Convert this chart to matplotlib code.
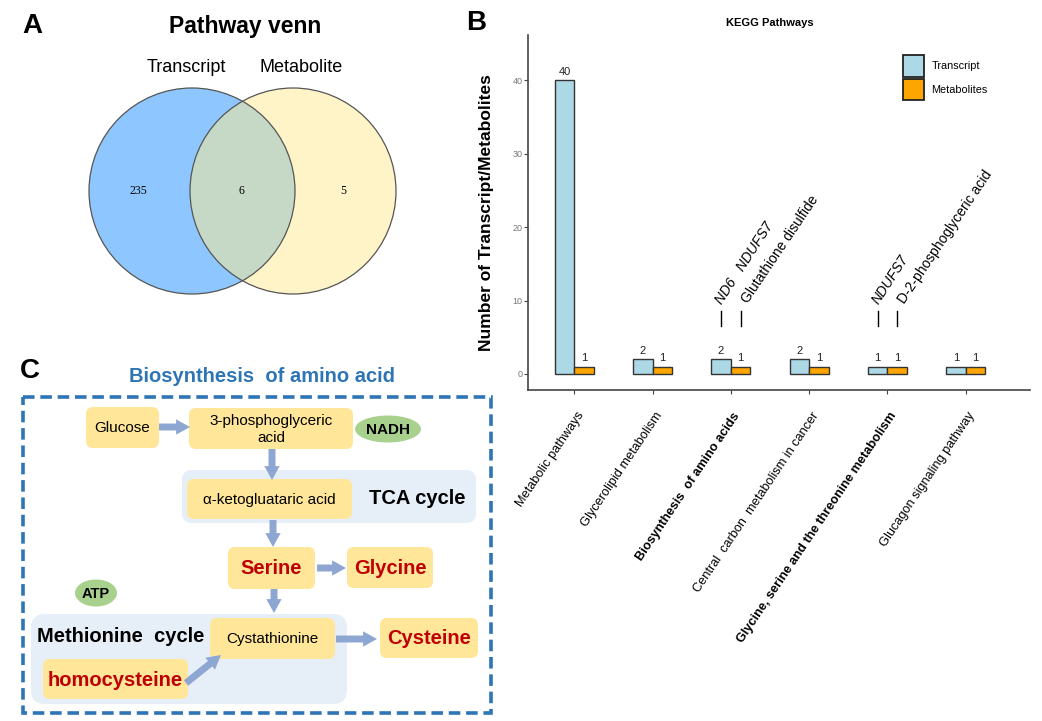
import numpy as np
import matplotlib
matplotlib.use("Agg")
import matplotlib.pyplot as plt
from matplotlib.patches import Circle, Ellipse, FancyBboxPatch, FancyArrowPatch, Rectangle
import matplotlib.transforms as mtransforms

plt.rcParams['font.family'] = ['Liberation Sans', 'DejaVu Sans']

# ---- data ----
venn_sets = ["Transcript", "Metabolite"]
venn_counts = [235, 6, 5]   # only transcript, both, only metabolite

pathways = ["Metabolic pathways",
            "Glycerolipid metabolism",
            "Biosynthesis  of amino acids",
            "Central  carbon  metabolism in cancer",
            "Glycine, serine and the threonine metabolism",
            "Glucagon signaling pathway"]
transcript = [40, 2, 2, 2, 1, 1]
metabolites = [1, 1, 1, 1, 1, 1]
bold_paths = [2, 4]
gene_notes = [(2, "ND6   NDUFS7"), (4, "NDUFS7")]
metab_notes = [(2, "Glutathione disulfide"), (4, "D-2-phosphoglyceric acid")]

W, H = 1042, 721
fig = plt.figure(figsize=(W / 100, H / 100), dpi=100)

# overlay in pixel coords for panels A and C
ov = fig.add_axes([0, 0, 1, 1])
ov.set_xlim(0, W)
ov.set_ylim(H, 0)
ov.axis('off')

# panel letters
for letter, (px, py) in zip("ABC", [(32, 26), (476, 23), (30, 371)]):
    ov.text(px, py, letter, fontsize=20, fontweight='bold', ha='center', va='center')

# ---- A: venn ----
ov.text(245, 27, "Pathway venn", fontsize=16.5, fontweight='bold', ha='center', va='center')
ov.text(186, 68, venn_sets[0], fontsize=13, ha='center', va='center')
ov.text(301, 68, venn_sets[1], fontsize=13, ha='center', va='center')
ov.add_patch(Circle((192, 191), 103, facecolor='#1E90FF', alpha=0.5, edgecolor='none'))
ov.add_patch(Circle((293, 191), 103, facecolor='#FFEB91', alpha=0.5, edgecolor='none'))
ov.add_patch(Circle((192, 191), 103, facecolor='none', edgecolor='#555555', lw=0.9))
ov.add_patch(Circle((293, 191), 103, facecolor='none', edgecolor='#555555', lw=0.9))
for cx, n in zip([138, 241, 343], venn_counts):
    ov.text(cx, 191, str(n), fontsize=8.5, family='Liberation Serif', ha='center', va='center')

# ---- C: pathway diagram ----
ov.text(262, 377, "Biosynthesis  of amino acid", fontsize=14.5, fontweight='bold',
        color='#2E75B6', ha='center', va='center')
ov.add_patch(Rectangle((23, 397), 468, 316, facecolor='none', edgecolor='#2E75B6',
                       lw=2.6, linestyle=(0, (3.2, 1.6))))

blue_bg = '#E6EEF8'
box_c = '#FFE699'
red = '#C00000'


def rbox(x0, y0, x1, y1, color, r=7):
    ov.add_patch(FancyBboxPatch((x0, y0), x1 - x0, y1 - y0,
                                boxstyle="round,pad=0,rounding_size=%d" % r,
                                facecolor=color, edgecolor='none'))


rbox(182, 470, 476, 523, blue_bg, 10)
rbox(31, 614, 347, 704, blue_bg, 14)

boxes = [
    (86, 407, 159, 448, "Glucose", 11, 'normal', 'black'),
    (189, 408, 353, 449, "3-phosphoglyceric\nacid", 11, 'normal', 'black'),
    (187, 479, 352, 519, "α-ketogluataric acid", 11, 'normal', 'black'),
    (228, 547, 315, 589, "Serine", 14.5, 'bold', red),
    (347, 547, 433, 588, "Glycine", 14.5, 'bold', red),
    (210, 618, 335, 659, "Cystathionine", 11, 'normal', 'black'),
    (43, 659, 188, 699, "homocysteine", 14.5, 'bold', red),
    (380, 618, 478, 658, "Cysteine", 14.5, 'bold', red),
]
for x0, y0, x1, y1, txt, fs, fw, col in boxes:
    rbox(x0, y0, x1, y1, box_c)
    ov.text((x0 + x1) / 2, (y0 + y1) / 2 + 1, txt, fontsize=fs, fontweight=fw, color=col,
            ha='center', va='center', linespacing=1.25)

ov.text(417, 499, "TCA cycle", fontsize=14.5, fontweight='bold', ha='center', va='center')
ov.text(121, 637, "Methionine  cycle", fontsize=14.5, fontweight='bold', ha='center', va='center')

for cx, cy, w, h, txt in [(388, 429, 66, 27, "NADH"), (96, 593, 42, 27, "ATP")]:
    ov.add_patch(Ellipse((cx, cy), w, h, facecolor='#A9D18E', edgecolor='none'))
    ov.text(cx, cy + 1, txt, fontsize=11 if txt == "NADH" else 10.5, fontweight='bold',
            ha='center', va='center')

arrows = [((159, 427), (190, 427)), ((272, 449), (272, 480)), ((273, 520), (273, 547)),
          ((317, 568), (346, 568)), ((274, 589), (274, 613)), ((336, 639), (377, 639)),
          ((186, 683), (221, 655))]
for a, b in arrows:
    ov.add_patch(FancyArrowPatch(a, b, arrowstyle='simple,head_width=1.1,head_length=1.0,tail_width=0.5',
                                 mutation_scale=10, color='#8EA6D2', shrinkA=0, shrinkB=0, lw=0))

# ---- B: KEGG bar chart ----
ax = fig.add_axes([528 / W, 1 - 390 / H, (1030 - 528) / W, (390 - 35) / H])
ax.set_facecolor('none')
x = np.arange(1, len(pathways) + 1)
bw = 0.25
ax.bar(x - bw / 2, transcript, bw, color='#ADD8E6', edgecolor='#333333', lw=1.0)
ax.bar(x + bw / 2, metabolites, bw, color='#FFA500', edgecolor='#333333', lw=1.0)
for xi, t, m in zip(x, transcript, metabolites):
    ax.text(xi - bw / 2, t + 0.5, str(t), fontsize=8, ha='center', va='bottom', color='#222222')
    ax.text(xi + bw / 2, m + 0.5, str(m), fontsize=8, ha='center', va='bottom', color='#222222')

for i, txt in gene_notes:
    bx = x[i] - bw / 2
    ax.plot([bx, bx], [6.5, 8.6], color='black', lw=1)
    ax.text(bx + 0.05, 9.2, txt, fontsize=10, style='italic', rotation=57,
            rotation_mode='anchor', ha='left', va='bottom')
for i, txt in metab_notes:
    bx = x[i] + bw / 2
    ax.plot([bx, bx], [6.5, 8.6], color='black', lw=1)
    ax.text(bx + 0.12, 9.3, txt, fontsize=10, rotation=56,
            rotation_mode='anchor', ha='left', va='bottom')

ax.set_xlim(0.41, 6.82)
ax.set_ylim(-2.2, 46.2)
ax.set_yticks([0, 10, 20, 30, 40])
ax.set_xticks(x)
ax.set_xticklabels([])
for s in ['top', 'right']:
    ax.spines[s].set_visible(False)
for s in ['left', 'bottom']:
    ax.spines[s].set_color('#444444')
    ax.spines[s].set_linewidth(1.2)
ax.tick_params(axis='both', length=3, color='#444444', width=0.8, pad=1)
ax.tick_params(axis='y', labelsize=6.5, labelcolor='#777777')

lab_tr = ax.get_xaxis_transform() + mtransforms.ScaledTranslation(0.02, -0.20, fig.dpi_scale_trans)
for i, (xi, name) in enumerate(zip(x, pathways)):
    ax.text(xi, 0, name, transform=lab_tr, fontsize=9.2, rotation=56, rotation_mode='anchor',
            ha='right', va='top', fontweight='bold' if i in bold_paths else 'normal')

ax.set_ylabel("Number of Transcript/Metabolites", fontsize=12.5, fontweight='bold')
ax.yaxis.set_label_coords(-0.068, 0.5)
fig.text(770 / W, 1 - 23 / H, "KEGG Pathways", fontsize=8, fontweight='bold', ha='center', va='center')

# legend
for (y0, y1), col, name in zip([(0.8825, 0.9437), (0.8169, 0.876)], ['#ADD8E6', '#FFA500'],
                               ["Transcript", "Metabolites"]):
    ax.add_patch(Rectangle((0.7464, y0), 0.0426, y1 - y0, transform=ax.transAxes,
                           facecolor=col, edgecolor='#222222', lw=1.3, clip_on=False))
    ax.text(0.804, (y0 + y1) / 2, name, transform=ax.transAxes, fontsize=7.8,
            ha='left', va='center')

fig.savefig("out.png", dpi=100)
